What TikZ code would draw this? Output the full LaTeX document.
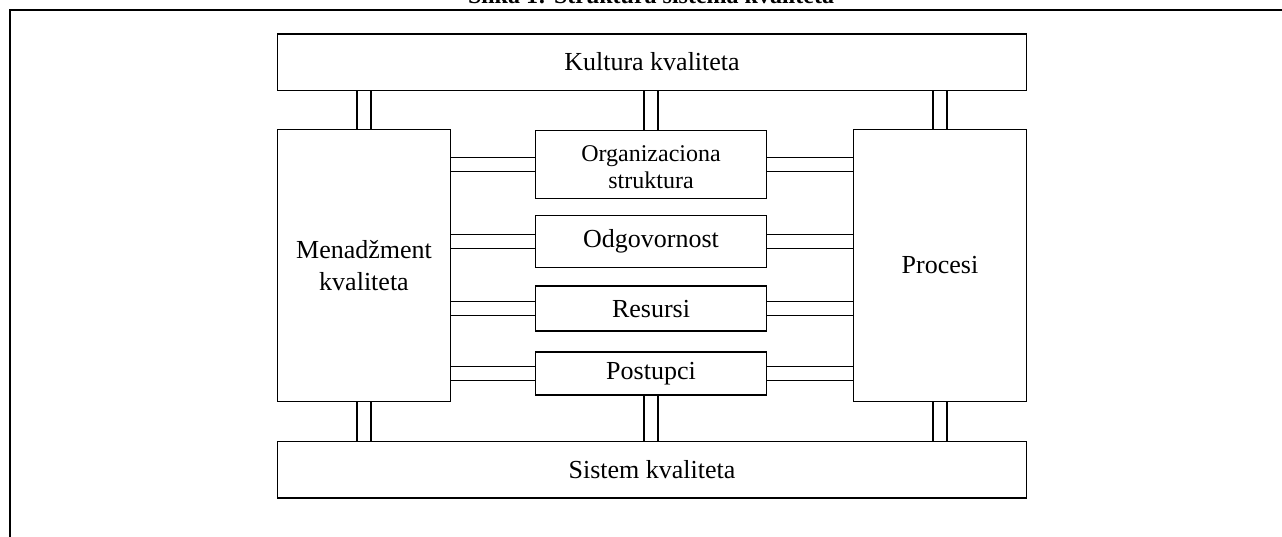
\documentclass[tikz,border=0pt]{standalone}
\usepackage{fontspec}
\setmainfont{Liberation Serif}
\begin{document}
\begin{tikzpicture}[x=1pt,y=-1pt,
    box/.style={draw, line width=1.5pt, inner sep=0pt, align=center, font=\fontsize{26}{32}\selectfont},
    link/.style={double, double distance=12.5pt, line width=1.5pt}]
    \useasboundingbox (0,0) rectangle (1282,536);
    % outer frame and title
    \draw[line width=2pt] (9.5,545) -- (9.5,9.5) -- (1295,9.5);
    \node[font=\bfseries\fontsize{24}{28}\selectfont, anchor=base, inner sep=0pt] (title) at (651,3.5) {Slika 1: Struktura sistema kvaliteta};

    \node[box, minimum width=749pt, minimum height=56.5pt] (kul) at (652,62) {Kultura kvaliteta};
    \node[box, minimum width=173pt, minimum height=272pt] (men) at (364,265.5) {Menadžment\\kvaliteta};
    \node[box, minimum width=173pt, minimum height=272pt] (proc) at (940,265.5) {Procesi};
    \node[box, minimum width=749pt, minimum height=56.5pt] (sis) at (652,469.5) {Sistem kvaliteta};

    \node[box, minimum width=231pt, minimum height=68pt, font=\fontsize{24}{27}\selectfont] (org) at (651,164.5) {\raisebox{-11pt}[0pt][0pt]{\begin{tabular}{@{}c@{}}Organizaciona\\struktura\end{tabular}}};
    \node[box, minimum width=231pt, minimum height=52pt] (odg) at (651,241.4) {Odgovornost};
    \node[box, minimum width=231pt, minimum height=45pt] (res) at (651,308.7) {Resursi};
    \node[box, minimum width=231pt, minimum height=43pt] (pos) at (651,373.7) {Postupci};

    % vertical links
    \foreach \n in {men,proc} {
        \draw[link] (\n.north) -- (\n.north |- kul.south);
        \draw[link] (\n.south) -- (\n.south |- sis.north);
    }
    \draw[link] (org.north) -- (org.north |- kul.south);
    \draw[link] (pos.south) -- (pos.south |- sis.north);

    % horizontal links
    \foreach \n in {org,odg,res,pos} {
        \draw[link] (\n.west) -- (men.east |- \n.west);
        \draw[link] (\n.east) -- (proc.west |- \n.east);
    }
\end{tikzpicture}
\end{document}
